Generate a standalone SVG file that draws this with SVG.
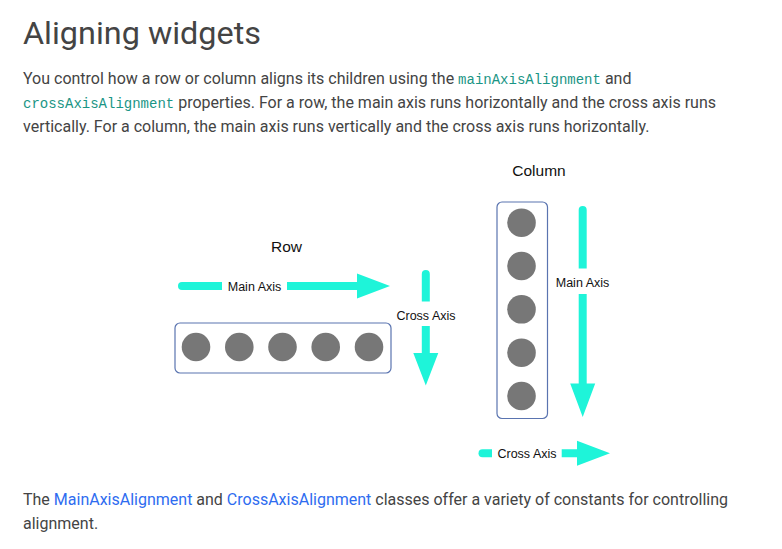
<svg xmlns="http://www.w3.org/2000/svg" width="782" height="549" viewBox="0 0 782 549">
<style>
.body{font-family:Roboto,"Liberation Sans",sans-serif;font-size:16px;fill:#444}
.code{font-family:"Liberation Mono","DejaVu Sans Mono",monospace;font-size:14px;fill:#1a9585}
.link{fill:#2e6cf0}
.lbl{font-family:"Liberation Sans",Arial,sans-serif;font-size:12.5px;fill:#111}
.ttl{font-family:"Liberation Sans",Arial,sans-serif;font-size:15.5px;fill:#111}
.box{fill:#fff;stroke:#5a74b0;stroke-width:1.2}
.dot{fill:#777}
.arr{fill:#1ef4d9}
</style>
<rect width="782" height="549" fill="#fff"/>
<text x="23" y="44" font-family="Roboto,'Liberation Sans',sans-serif" font-size="32" fill="#444" textLength="238" lengthAdjust="spacingAndGlyphs">Aligning widgets</text>
<text class="body" x="23" y="83.5">You control how a row or column aligns its children using the <tspan class="code">mainAxisAlignment</tspan> and</text>
<text class="body" x="23" y="107.5"><tspan class="code">crossAxisAlignment</tspan> properties. For a row, the main axis runs horizontally and the cross axis runs</text>
<text class="body" x="23" y="131.5">vertically. For a column, the main axis runs vertically and the cross axis runs horizontally.</text>

<g id="row">
<text class="ttl" x="286.5" y="251.5" text-anchor="middle">Row</text>
<rect class="box" x="175" y="323" width="216" height="50" rx="5"/>
<circle class="dot" cx="196" cy="347" r="14.3"/>
<circle class="dot" cx="239.3" cy="347" r="14.3"/>
<circle class="dot" cx="282.5" cy="347" r="14.3"/>
<circle class="dot" cx="325.7" cy="347" r="14.3"/>
<circle class="dot" cx="369" cy="347" r="14.3"/>
</g>
<g id="column">
<text class="ttl" x="539" y="176" text-anchor="middle">Column</text>
<rect class="box" x="497" y="202" width="50.5" height="216.5" rx="5"/>
<circle class="dot" cx="521.5" cy="222.7" r="14.3"/>
<circle class="dot" cx="521.5" cy="266" r="14.3"/>
<circle class="dot" cx="521.5" cy="309.3" r="14.3"/>
<circle class="dot" cx="521.5" cy="352.7" r="14.3"/>
<circle class="dot" cx="521.5" cy="396" r="14.3"/>
</g>

<g id="connectors">
<!-- Row main axis -->
<path class="arr" d="M182,282 H222 V290 H182 A4,4 0 0 1 182,282 Z"/>
<path class="arr" d="M287,282 H357 V273.5 L390,286 L357,298.5 V290 H287 Z"/>
<text class="lbl" x="254.5" y="290.5" text-anchor="middle">Main Axis</text>
<!-- Row cross axis -->
<path class="arr" d="M421.8,274 A4,4 0 0 1 429.8,274 V301.5 H421.8 Z"/>
<path class="arr" d="M421.8,326 H429.8 V353 H438.3 L425.8,385.5 L413.3,353 H421.8 Z"/>
<text class="lbl" x="426" y="319.5" text-anchor="middle">Cross Axis</text>
<!-- Column main axis -->
<path class="arr" d="M578.7,210 A4,4 0 0 1 586.7,210 V268.5 H578.7 Z"/>
<path class="arr" d="M578.7,294 H586.7 V383.5 H595.2 L582.7,417 L570.2,383.5 H578.7 Z"/>
<text class="lbl" x="582.5" y="287" text-anchor="middle">Main Axis</text>
<!-- Column cross axis -->
<path class="arr" d="M482.5,449.3 H492 V457.3 H482.5 A4,4 0 0 1 482.5,449.3 Z"/>
<path class="arr" d="M561.7,449.3 H577 V440.8 L610,453.3 L577,465.8 V457.3 H561.7 Z"/>
<text class="lbl" x="527" y="457.8" text-anchor="middle">Cross Axis</text>
</g>

<text class="body" x="23" y="504.5">The <tspan class="link">MainAxisAlignment</tspan> and <tspan class="link">CrossAxisAlignment</tspan> classes offer a variety of constants for controlling</text>
<text class="body" x="23" y="528.5">alignment.</text>
</svg>
